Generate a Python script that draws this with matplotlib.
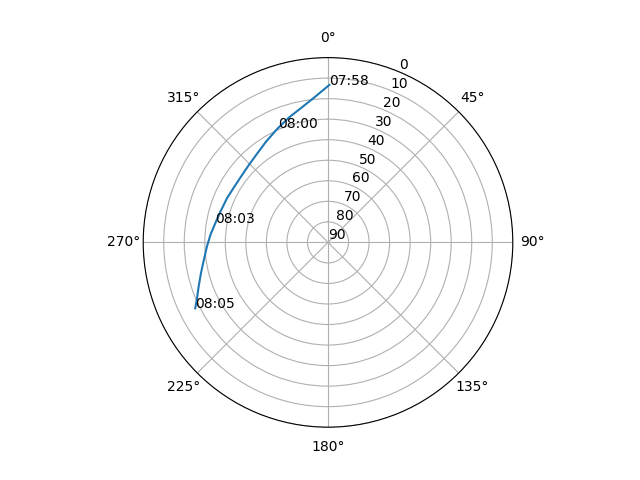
import numpy as np
import matplotlib
matplotlib.use("Agg")
import matplotlib.pyplot as plt

# satellite track: azimuth (deg) and elevation (deg)
azimuth = [0.5, 355.3, 349.4, 342.8, 336.2, 328.4, 320.5, 313.3, 306.6, 299.9,
           293.6, 285.9, 279.6, 273.6, 268.0, 261.9, 256.3, 251.1, 246.3, 243.6]
elevation = [13.3, 18.5, 22.8, 26.2, 29.3, 32.4, 34.9, 36.25, 36.9, 36.9,
             36.3, 35.5, 34.3, 32.6, 31.0, 28.9, 26.3, 23.4, 20.2, 17.8]

# time labels
label_times = ["07:58", "08:00", "08:03", "08:05"]
label_az = [0.5, 336.2, 279.6, 243.6]
label_el = [13.3, 29.3, 34.3, 17.8]

r_ticks = list(range(0, 91, 10))

fig = plt.figure(figsize=(6.4, 4.8), dpi=100)
ax = fig.add_subplot(111, projection="polar")
ax.set_theta_zero_location("N")
ax.set_theta_direction(-1)
ax.plot(np.radians(azimuth), elevation)
for t, a, e in zip(label_times, label_az, label_el):
    ax.text(np.radians(a), e, t)
ax.set_ylim(90, 0)
ax.set_yticks(r_ticks)
ax.set_yticklabels([str(v) for v in r_ticks])
fig.savefig("out.png", dpi=100)
